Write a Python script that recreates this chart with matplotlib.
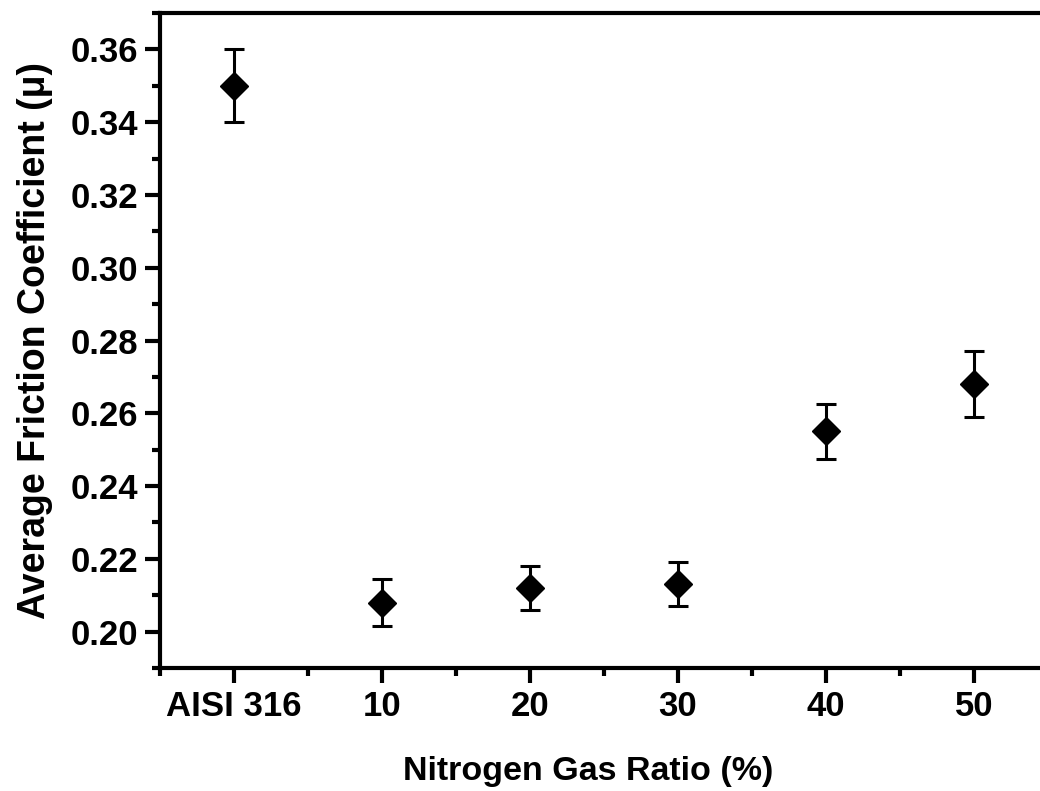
import matplotlib
matplotlib.use('Agg')
import matplotlib.pyplot as plt
from matplotlib.ticker import MultipleLocator

# data
samples = ['AISI 316', '10', '20', '30', '40', '50']
friction = [0.350, 0.208, 0.212, 0.213, 0.255, 0.268]
friction_err = [0.010, 0.0065, 0.006, 0.006, 0.0075, 0.009]

plt.rcParams['font.family'] = ['Liberation Sans', 'DejaVu Sans']
plt.rcParams['font.weight'] = 'bold'

fig = plt.figure(figsize=(10.4, 7.91), dpi=100)
# right part of the frame is cut off in the original, so the axes run past the edge
ax = fig.add_axes([160/1040, 123/791, 888/1040, 655/791])

x = list(range(len(samples)))
ax.errorbar(x, friction, yerr=friction_err, fmt='D', color='black',
            markersize=14, elinewidth=2.2, capsize=7, capthick=2.2)

ax.set_xlim(-0.5, 5.5)
ax.set_ylim(0.19, 0.37)
ax.set_xticks(x)
ax.set_xticklabels(samples)
ax.xaxis.set_minor_locator(MultipleLocator(0.5))
ax.yaxis.set_major_locator(MultipleLocator(0.02))
ax.yaxis.set_minor_locator(MultipleLocator(0.01))
ax.yaxis.set_major_formatter(plt.FormatStrFormatter('%.2f'))

for s in ax.spines.values():
    s.set_linewidth(3)
ax.tick_params(which='major', direction='out', length=11, width=3, labelsize=25, pad=5)
ax.tick_params(which='minor', direction='out', length=6, width=3)
ax.tick_params(top=False, right=False)

ax.set_xlabel('Nitrogen Gas Ratio (%)', fontsize=24.5, fontweight='bold')
ax.xaxis.set_label_coords(0.482, -0.135)
ax.set_ylabel('Average Friction Coefficient (μ)', fontsize=27, fontweight='bold', labelpad=12)

fig.savefig('out.png', dpi=100)
